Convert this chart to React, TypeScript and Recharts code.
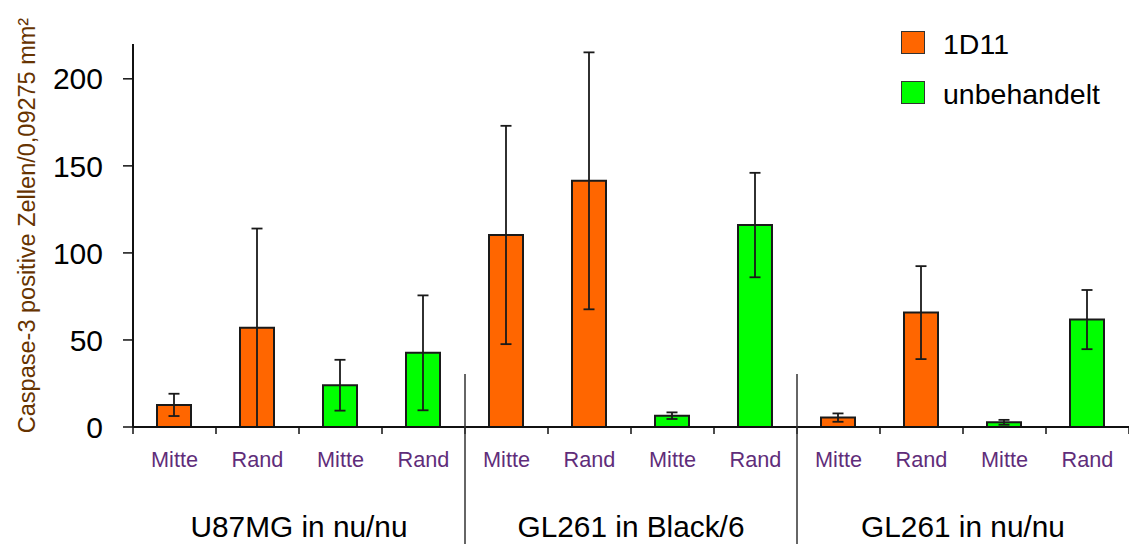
import React from "react";
import { BarChart, Bar, XAxis, YAxis, ErrorBar, Cell } from "recharts";

const categories = ["Mitte", "Rand", "Mitte", "Rand", "Mitte", "Rand", "Mitte", "Rand", "Mitte", "Rand", "Mitte", "Rand"];
const treatment = [0, 0, 1, 1, 0, 0, 1, 1, 0, 0, 1, 1];
const values = [12.7, 57, 24, 42.6, 110.3, 141.4, 6.5, 116, 5.4, 65.7, 2.7, 61.7];
const errors = [6.4, 57, 14.6, 33, 62.7, 73.8, 1.9, 30, 2.4, 26.7, 1.4, 17];
const groups = ["U87MG in nu/nu", "GL261 in Black/6", "GL261 in nu/nu"];
const seriesNames = ["1D11", "unbehandelt"];
const seriesColors = ["#FF6600", "#00FF00"];
const yTicks = [0, 50, 100, 150, 200];
const yLabel = "Caspase-3 positive Zellen/0,09275 mm²";

const FONT = "'Liberation Sans', Arial, sans-serif";
const perGroup = categories.length / groups.length;

const data = categories.map((c, i) => ({
  x: i + 0.5,
  cat: c,
  value: values[i],
  err: errors[i],
  t: treatment[i],
}));

const boundaryTicks = categories.map((_, i) => i).concat([categories.length]);
const centerTicks = categories.map((_, i) => i + 0.5);
const groupTicks: number[] = [];
groups.forEach((_, g) => {
  groupTicks.push(g * perGroup + perGroup / 2);
  if (g > 0) groupTicks.push(g * perGroup);
});

const CatTick = (props: any) => {
  const { x, y, payload } = props;
  const idx = Math.floor(payload.value);
  return (
    <text x={x} y={y + 20} textAnchor="middle" fontSize={21.7} fontFamily={FONT} fill="#5f2d7a">
      {categories[idx]}
    </text>
  );
};

const GroupTick = (props: any) => {
  const { x, y, payload } = props;
  const v = payload.value;
  if (Number.isInteger(v / perGroup)) {
    return <line x1={x} x2={x} y1={y - 123} y2={y + 47} stroke="#333" strokeWidth={1.5} />;
  }
  const g = Math.floor(v / perGroup);
  return (
    <text x={x} y={y + 40} textAnchor="middle" fontSize={29.8} fontFamily={FONT} fill="#000">
      {groups[g]}
    </text>
  );
};

const YLabel = (props: any) => {
  const vb = props.viewBox;
  const cx = 35;
  const cy = vb.y + vb.height / 2 - 10;
  return (
    <text
      x={cx}
      y={cy}
      transform={`rotate(-90, ${cx}, ${cy})`}
      textAnchor="middle"
      fontSize={23.5}
      fontFamily={FONT}
      fill="#663300"
    >
      {yLabel}
    </text>
  );
};

export default function App() {
  return (
    <div style={{ position: "absolute", left: 0, top: 0, width: 1129, height: 544, background: "#fff" }}>
      <BarChart width={1129} height={544} data={data} margin={{ top: 44, right: 0, bottom: 0, left: 0 }}>
        <XAxis
          xAxisId="a_main"
          type="number"
          dataKey="x"
          domain={[0, categories.length]}
          ticks={boundaryTicks}
          interval={0}
          height={20}
          tickSize={7}
          tick={() => <g />}
          axisLine={{ stroke: "#111", strokeWidth: 2 }}
          tickLine={{ stroke: "#111", strokeWidth: 1.5 }}
        />
        <XAxis
          xAxisId="b_cat"
          type="number"
          dataKey="x"
          domain={[0, categories.length]}
          ticks={centerTicks}
          interval={0}
          height={50}
          tickSize={0}
          tickMargin={0}
          axisLine={false}
          tickLine={false}
          tick={CatTick}
        />
        <XAxis
          xAxisId="c_grp"
          type="number"
          dataKey="x"
          domain={[0, categories.length]}
          ticks={groupTicks}
          interval={0}
          height={47}
          tickSize={0}
          tickMargin={0}
          axisLine={false}
          tickLine={false}
          tick={GroupTick}
        />
        <YAxis
          type="number"
          domain={[0, 220]}
          ticks={yTicks}
          interval={0}
          width={133}
          tickSize={10}
          tickMargin={20}
          tick={{ fontSize: 30, fontFamily: FONT, fill: "#000" }}
          axisLine={{ stroke: "#111", strokeWidth: 2 }}
          tickLine={{ stroke: "#111", strokeWidth: 1.5 }}
          label={YLabel}
        />
        <Bar xAxisId="a_main" dataKey="value" barSize={34} stroke="#1a1a1a" strokeWidth={2} isAnimationActive={false}>
          {data.map((d, i) => (
            <Cell key={i} fill={seriesColors[d.t]} />
          ))}
          <ErrorBar dataKey="err" direction="y" width={5.5} stroke="#1a1a1a" strokeWidth={1.8} />
        </Bar>
      </BarChart>
      <div style={{ position: "absolute", left: 901, top: 31, fontFamily: FONT }}>
        {seriesNames.map((n, i) => (
          <div key={n} style={{ position: "relative", height: 50 }}>
            <div
              style={{
                position: "absolute",
                left: 0,
                top: 0,
                width: 22,
                height: 21,
                background: seriesColors[i],
                border: "1.5px solid #333",
              }}
            />
            <div
              style={{
                position: "absolute",
                left: 42,
                top: -5,
                fontSize: 28.5,
                lineHeight: "36px",
                color: "#000",
                whiteSpace: "nowrap",
              }}
            >
              {n}
            </div>
          </div>
        ))}
      </div>
    </div>
  );
}
